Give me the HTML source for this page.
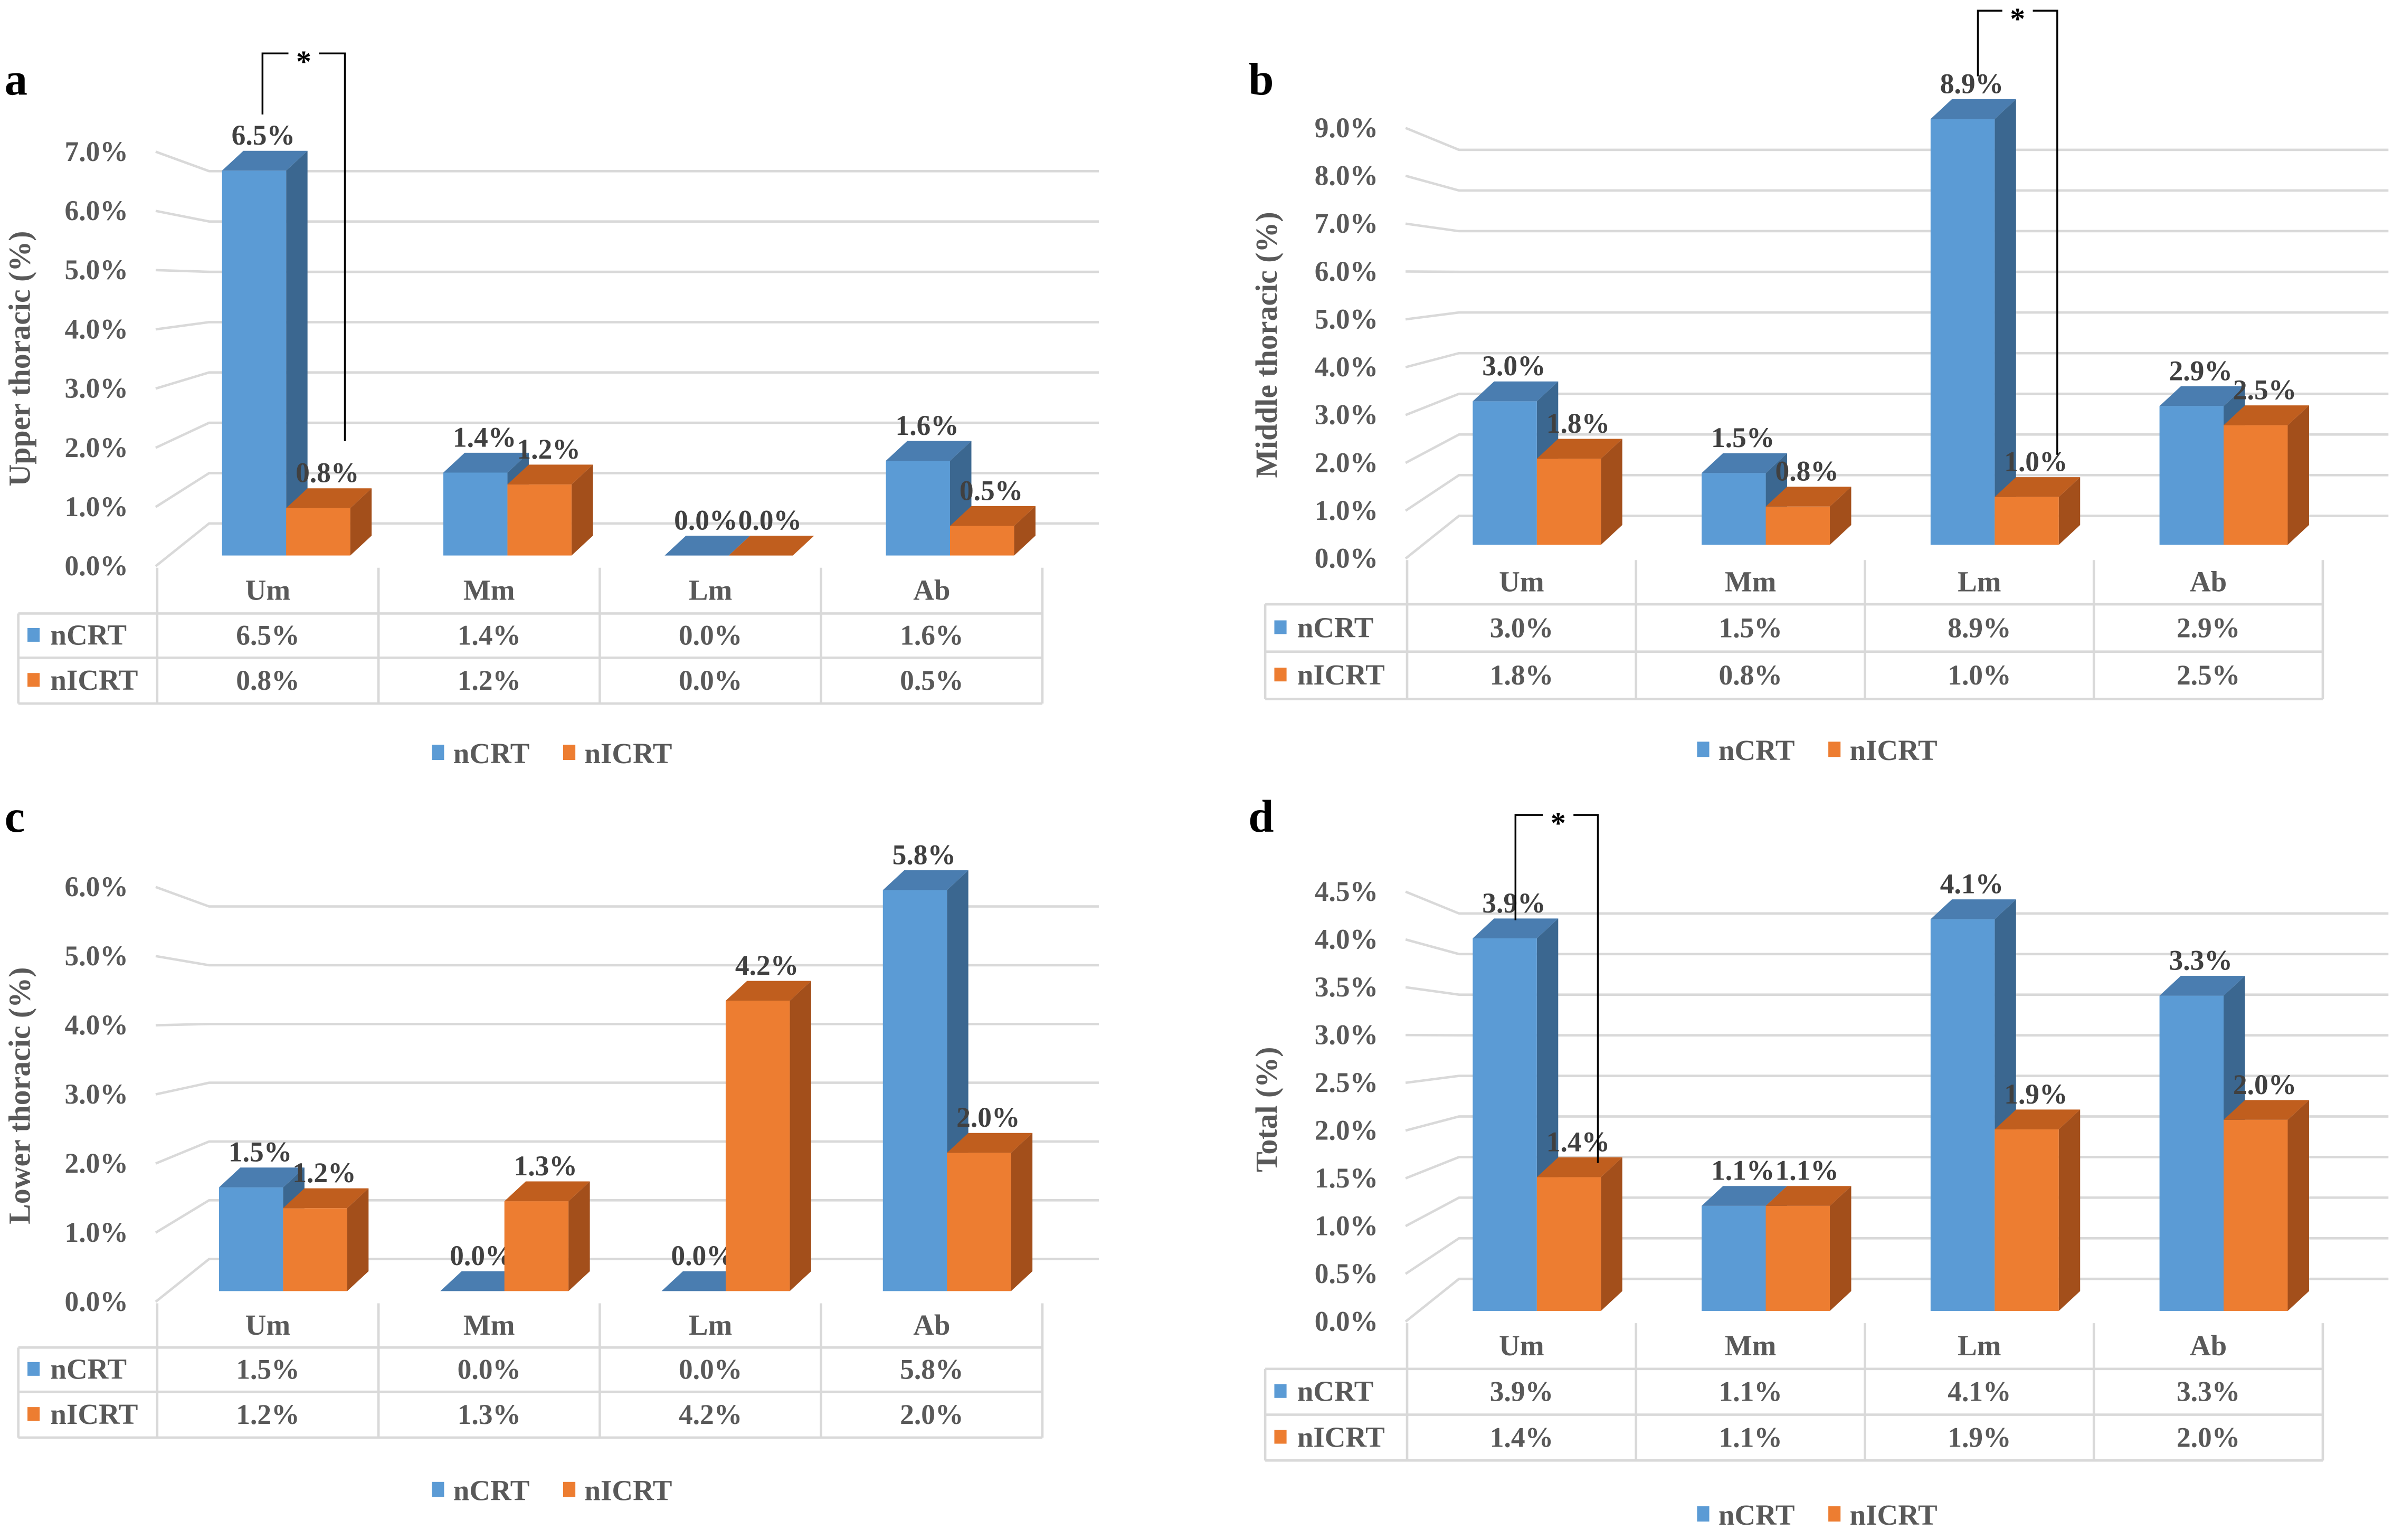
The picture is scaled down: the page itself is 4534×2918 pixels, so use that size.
<!DOCTYPE html>
<html><head><meta charset="utf-8"><style>
html,body{margin:0;padding:0;background:#fff;}
svg{display:block;}
text{font-family:"Liberation Serif",serif;font-weight:bold;}
</style></head><body>
<svg id="fig" xmlns="http://www.w3.org/2000/svg" width="4534" height="2918" viewBox="0 0 1568 1009.1" preserveAspectRatio="none"></svg>
<script>
const categories = ["Um","Mm","Lm","Ab"];
const seriesNames = ["nCRT","nICRT"];
const ncrtA = [6.5,1.4,0.0,1.6];
const nicrtA = [0.8,1.2,0.0,0.5];
const ncrtB = [3.0,1.5,8.9,2.9];
const nicrtB = [1.8,0.8,1.0,2.5];
const ncrtC = [1.5,0.0,0.0,5.8];
const nicrtC = [1.2,1.3,4.2,2.0];
const ncrtD = [3.9,1.1,4.1,3.3];
const nicrtD = [1.4,1.1,1.9,2.0];
const ticksA = ["0.0%","1.0%","2.0%","3.0%","4.0%","5.0%","6.0%","7.0%"];
const ticksB = ["0.0%","1.0%","2.0%","3.0%","4.0%","5.0%","6.0%","7.0%","8.0%","9.0%"];
const ticksC = ["0.0%","1.0%","2.0%","3.0%","4.0%","5.0%","6.0%"];
const ticksD = ["0.0%","0.5%","1.0%","1.5%","2.0%","2.5%","3.0%","3.5%","4.0%","4.5%"];

const NS="http://www.w3.org/2000/svg";
const svg=document.getElementById('fig');
function mk(tag,attrs,parent,txt){const e=document.createElementNS(NS,tag);for(const k in attrs)e.setAttribute(k,attrs[k]);if(txt!==undefined)e.textContent=txt;(parent||svg).appendChild(e);return e;}

const panels=[
 {key:"a",letter:[3,62],title:"Upper thoracic (%)",tpos:[15,235],ncrt:ncrtA,nicrt:nicrtA,ticks:ticksA,step:1,u:38.8,base:364,lbase:371,x0:103,cw:145,lx:12,gr:720,bo:30,leg:[283,494],rows:[30,29,30]},
 {key:"b",letter:[818,62],title:"Middle thoracic (%)",tpos:[832,226],ncrt:ncrtB,nicrt:nicrtB,ticks:ticksB,step:1,u:31.35,base:357,lbase:366,x0:922,cw:150,lx:829,gr:1565,bo:32,leg:[1112,492],rows:[29,31,31]},
 {key:"c",letter:[3,545],title:"Lower thoracic (%)",tpos:[15,718],ncrt:ncrtC,nicrt:nicrtC,ticks:ticksC,step:1,u:45.3,base:846,lbase:853,x0:103,cw:145,lx:12,gr:720,bo:32,leg:[283,977],rows:[29,29,30]},
 {key:"d",letter:[818,545],title:"Total (%)",tpos:[832,727],ncrt:ncrtD,nicrt:nicrtD,ticks:ticksD,step:0.5,u:62.6,base:859,lbase:866,x0:922,cw:150,lx:829,gr:1565,bo:32,leg:[1112,993],rows:[30,30,30]}
];
const C={b:"#5b9bd5",bs:"#3b6790",bt:"#4a7db0",o:"#ed7d31",os:"#a34f1b",ot:"#c05e1e",grid:"#d9d9d9",txt:"#595959",lab:"#404040"};
const DX=14,DY=-13;

panels.forEach(p=>{
  const g=mk('g',{});
  
  
  const yF=v=>p.lbase-v*p.u;
  const yBack=v=>p.lbase-28-v*p.u*0.85;
  const yBar=v=>p.base-v*p.u;
  const L=mk('text',{x:p.letter[0],y:p.letter[1],'font-size':30,fill:"#000"},g,p.key);
  
  
  p.ticks.forEach((t,i)=>{
    const v=i*p.step;
    const gl=mk('polyline',{points:`${p.x0-1},${yF(v)} ${p.x0+34},${yBack(v)} ${p.gr},${yBack(v)}`,fill:"none",stroke:C.grid,'stroke-width':1.6},g);
    
    
    const tx=mk('text',{x:p.x0-19,y:yF(v)+6,'font-size':18.5,fill:C.txt,'text-anchor':'end'},g,t);
    
    
  });
  const yt=mk('text',{x:p.tpos[0],y:p.tpos[1],'font-size':20,fill:C.txt,'text-anchor':'middle',transform:`rotate(-90 ${p.tpos[0]} ${p.tpos[1]})`,'dominant-baseline':'middle'},g,p.title);
  
  
  categories.forEach((cat,i)=>{
    const cx=p.x0+p.cw*(i+0.5);
    [[p.ncrt[i],cx-p.bo,C.b,C.bs,C.bt,'ncrt'],[p.nicrt[i],cx-p.bo+42,C.o,C.os,C.ot,'nicrt']].forEach(([v,x,f,s,t,nm])=>{
      const w=42,yt0=yBar(v),yb=p.base;
      const bg=mk('g',{},g);
      
      
      if(v>0){
        mk('polygon',{points:`${x+w},${yt0} ${x+w+DX},${yt0+DY} ${x+w+DX},${yb+DY} ${x+w},${yb}`,fill:s},bg);
        mk('rect',{x:x,y:yt0,width:w,height:yb-yt0,fill:f},bg);
      }
      mk('polygon',{points:`${x},${yt0} ${x+DX},${yt0+DY} ${x+w+DX},${yt0+DY} ${x+w},${yt0}`,fill:t},bg);
      const vl=mk('text',{x:x+w/2+6,y:yt0+DY-4,'font-size':18.5,fill:C.lab,'text-anchor':'middle'},g,v.toFixed(1)+"%");
      
      
    });
  });
  const top=p.lbase+1, r1=top+p.rows[0], r2=r1+p.rows[1], r3=r2+p.rows[2];
  const right=p.x0+p.cw*4;
  const tl=(a)=>{const l=mk('line',Object.assign({stroke:C.grid,'stroke-width':1.6},a),g);};
  for(let i=0;i<=4;i++)tl({x1:p.x0+p.cw*i,y1:top,x2:p.x0+p.cw*i,y2:r3});
  tl({x1:p.lx,y1:r1,x2:p.lx,y2:r3});
  [r1,r2,r3].forEach(y=>tl({x1:p.lx,y1:y,x2:right,y2:y}));
  categories.forEach((cat,i)=>{
    const cx=p.x0+p.cw*(i+0.5);
    const ct=mk('text',{x:cx,y:top+p.rows[0]/2+6,'font-size':19,fill:C.txt,'text-anchor':'middle'},g,cat);
    
    
    const a=mk('text',{x:cx,y:r1+p.rows[1]/2+6,'font-size':18.5,fill:C.txt,'text-anchor':'middle'},g,p.ncrt[i].toFixed(1)+"%");
    
    
    const b=mk('text',{x:cx,y:r2+p.rows[2]/2+6,'font-size':18.5,fill:C.txt,'text-anchor':'middle'},g,p.nicrt[i].toFixed(1)+"%");
    
    
  });
  [[C.b,seriesNames[0],r1+p.rows[1]/2],[C.o,seriesNames[1],r2+p.rows[2]/2]].forEach(([col,nm,yc])=>{
    mk('rect',{x:p.lx+6,y:yc-5,width:8,height:9,fill:col},g);
    const t=mk('text',{x:p.lx+21,y:yc+6,'font-size':19,fill:C.txt},g,nm);
    
    
  });
  const lg=mk('g',{},g);
  
  
  const [lx,ly]=p.leg;
  mk('rect',{x:lx,y:ly-6,width:8,height:10,fill:C.b},lg);
  const e1=mk('text',{x:lx+14,y:ly+6,'font-size':19,fill:C.txt},lg,seriesNames[0]);
  
  
  mk('rect',{x:lx+86,y:ly-6,width:8,height:10,fill:C.o},lg);
  const e2=mk('text',{x:lx+100,y:ly+6,'font-size':19,fill:C.txt},lg,seriesNames[1]);
  
  
});

[[172,75,35,226,289,199],[1296,50,7,1348,298,1322],[993,603,534,1047,762,1021]].forEach(([x1,y1,yt,x2,y2,sx])=>{
  const g=mk('g',{});
  
  
  mk('polyline',{points:`${x1},${y1} ${x1},${yt} ${sx-10},${yt}`,fill:'none',stroke:'#000','stroke-width':1.2},g);
  mk('polyline',{points:`${sx+10},${yt} ${x2},${yt} ${x2},${y2}`,fill:'none',stroke:'#000','stroke-width':1.2},g);
  mk('text',{x:sx,y:yt+12,'font-size':20,fill:'#000','text-anchor':'middle'},g,'*');
});
</script>
</body></html>
